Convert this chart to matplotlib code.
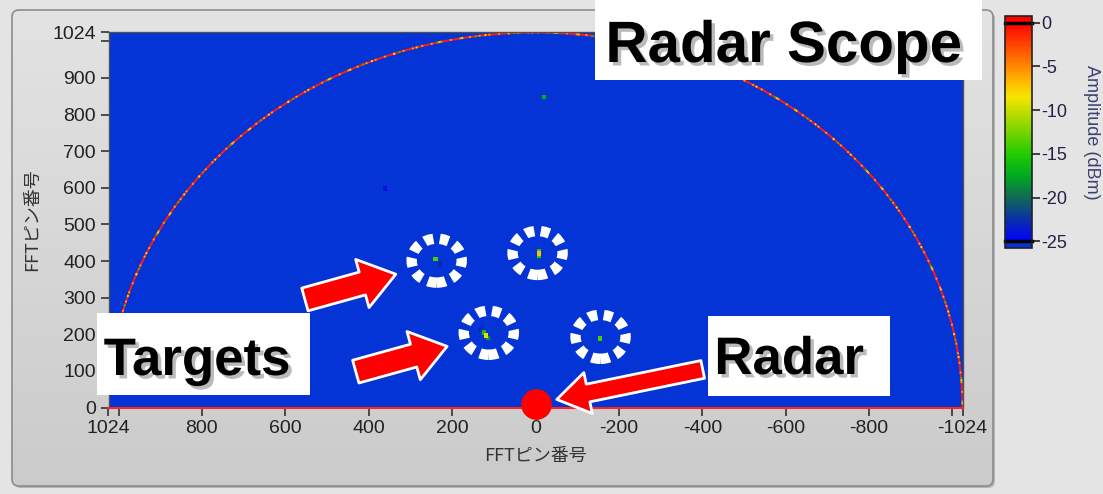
import numpy as np
import matplotlib
matplotlib.use("Agg")
import matplotlib.pyplot as plt
import matplotlib.patheffects as pe
from matplotlib.patches import Arc, Circle, FancyArrowPatch, FancyBboxPatch, Rectangle
from matplotlib.colors import LinearSegmentedColormap, Normalize
from matplotlib.cm import ScalarMappable

plt.rcParams['font.family'] = ['Liberation Sans', 'Noto Sans CJK JP', 'DejaVu Sans']
plt.rcParams['axes.unicode_minus'] = False

# echoes seen on the scope: FFT bin (x), FFT bin (y), amplitude in dBm
echo_x = [240, 229, -9, -9, -9, 124, 119, 114, 130, -155, -20, 361]
echo_y = [405, 391, 426, 414, 420, 205, 197, 190, 213, 188, 848, 598]
echo_amp = [-14, -23, -15, -15, -7, -16, -8, -18, -23, -14, -17, -24]

# circled targets
target_x = [237, -5, 112, -156]
target_y = [401, 422, 204, 193]

radar_x, radar_y = 0, 10
max_bin = 1024

x_ticks = [1024, 1000, 800, 600, 400, 200, 0, -200, -400, -600, -800, -1000, -1024]
y_ticks = [0, 100, 200, 300, 400, 500, 600, 700, 800, 900, 1000, 1024]
cbar_ticks = [0, -5, -10, -15, -20, -25]

# amplitude colour scale (dBm, colour)
cmap_nodes = [(-25, '#0000ff'), (-22.5, '#0b30a8'), (-20, '#106a55'), (-17.5, '#00aa22'),
              (-15, '#22cc00'), (-12.5, '#77d400'), (-10, '#c8de00'), (-8.5, '#f5e600'),
              (-7, '#ffc000'), (-5, '#ff8800'), (-2.5, '#ff4400'), (0, '#ff0000')]
bg_blue = '#0433d6'

vmin, vmax = -25, 0
cmap = LinearSegmentedColormap.from_list(
    'amp', [((v - vmin) / (vmax - vmin), c) for v, c in cmap_nodes])
cmap.set_under(bg_blue)
cmap.set_over('#ff0000')
norm = Normalize(vmin=vmin, vmax=vmax)

fig = plt.figure(figsize=(11.03, 4.94), dpi=100)
fig.patch.set_facecolor('#e4e4e4')

# panel background (pixel coordinates)
bg = fig.add_axes([0, 0, 1, 1], zorder=-5)
bg.axis('off')
shadow = FancyBboxPatch((14, 12), 981, 476, boxstyle='round,pad=0,rounding_size=7',
                        fc='#b4b4b4', ec='none')
bg.add_patch(shadow)
panel = FancyBboxPatch((12, 10), 981, 476, boxstyle='round,pad=0,rounding_size=7',
                       fc='none', ec='#8c8c8c', lw=1.2, zorder=3)
bg.add_patch(panel)
grad = np.linspace(0, 1, 100)[:, None]
img = bg.imshow(grad, cmap=LinearSegmentedColormap.from_list('panel', ['#e3e3e3', '#cbcbcb']),
                extent=(12, 993, 486, 10), aspect='auto', zorder=2)
img.set_clip_path(panel)
bg.set_xlim(0, 1103)
bg.set_ylim(494, 0)

# scope
ax = fig.add_axes([108.5 / 1103, (494 - 407.5) / 494, 854 / 1103, 375 / 494])
ax.set_facecolor(bg_blue)
ax.set_xlim(max_bin, -max_bin)
ax.set_ylim(0, max_bin)

ax.add_patch(Arc((0, 0), 2 * max_bin, 2 * max_bin, theta1=0, theta2=180,
                 ec='#ff1a1a', lw=1.4, zorder=2))
ax.add_patch(Arc((0, 0), 2 * max_bin, 2 * max_bin, theta1=0, theta2=180,
                 ec='#ff9a00', lw=1.4, ls=(0, (1, 4)), zorder=2))
ax.add_patch(Arc((0, 0), 2 * max_bin, 2 * max_bin, theta1=0, theta2=180,
                 ec='#f0e000', lw=1.4, ls=(2, (1, 11)), zorder=2))
ax.add_patch(Arc((0, 0), 2 * max_bin, 2 * max_bin, theta1=0, theta2=180,
                 ec='#30c000', lw=1.4, ls=(7, (1, 19)), zorder=2))

order = np.argsort(echo_amp)
ax.scatter(np.array(echo_x)[order], np.array(echo_y)[order], c=np.array(echo_amp)[order],
           cmap=cmap, norm=norm, marker='s', s=10, linewidths=0, zorder=3)

for tx, ty in zip(target_x, target_y):
    ax.add_patch(Circle((tx, ty), 60, fill=False, ec='white', lw=7.5,
                        ls=(0, (0.86, 0.62)), zorder=4))

arrows = [((553, 295), (335, 364), 17, 36, 25),
          ((431, 98), (212, 167), 17, 36, 25),
          ((-401, 104), (-51, 22), 13, 30, 23)]
for tail, tip, tw, hw, hl in arrows:
    ax.add_patch(FancyArrowPatch(
        tail, tip, arrowstyle=f'simple,head_length={hl},head_width={hw},tail_width={tw}',
        mutation_scale=1, fc='#ff0000', ec='white', lw=2, shrinkA=0, shrinkB=0,
        zorder=5, clip_on=False))

ax.scatter([radar_x], [radar_y], s=490, c='#ff0000', linewidths=0, zorder=6, clip_on=False)

for s in ['left', 'top', 'right']:
    ax.spines[s].set_color('#505050')
    ax.spines[s].set_linewidth(1)
ax.spines['bottom'].set_color('#ff2020')
ax.spines['bottom'].set_linewidth(1.5)

ax.set_xticks(x_ticks, ['' if abs(t) == 1000 else str(t) for t in x_ticks])
ax.set_yticks(y_ticks, ['' if t == 1000 else str(t) for t in y_ticks])
ax.tick_params(direction='out', length=6, width=1.2, color='#333333',
               labelsize=14, labelcolor='#222222', pad=3)
ax.set_xlabel('FFTピン番号', fontsize=13, color='#333333', labelpad=7,
              family=['Noto Sans CJK JP', 'DejaVu Sans'])
ax.set_ylabel('FFTピン番号', fontsize=13, color='#333333', labelpad=8,
              family=['Noto Sans CJK JP', 'DejaVu Sans'])

# colour bar
cax = fig.add_axes([1005 / 1103, (494 - 248) / 494, 27 / 1103, 232 / 494])
cbar = fig.colorbar(ScalarMappable(norm=norm, cmap=cmap), cax=cax, extend='both',
                    extendrect=True, extendfrac=0.03, ticks=cbar_ticks)
cbar.outline.set_edgecolor('#222222')
cbar.outline.set_linewidth(1.2)
cax.axhline(vmax, color='black', lw=2.5, clip_on=False)
cax.axhline(vmin, color='black', lw=2.5, clip_on=False)
cax.tick_params(length=6, width=1.2, color='#222222', labelsize=13,
                labelcolor='#222244', pad=1)
cbar.set_label('Amplitude (dBm)', rotation=270, labelpad=23, fontsize=13, color='#3b4270')

# annotation boxes
ov = fig.add_axes([0, 0, 1, 1], zorder=10)
ov.set_xlim(0, 1103)
ov.set_ylim(494, 0)
ov.axis('off')
shade = [pe.SimplePatchShadow(offset=(2.5, -2.5), shadow_rgbFace='#777777', alpha=0.5), pe.Normal()]
boxes = [((595, 0, 387, 80), (784, 62), 'Radar Scope', 42),
         ((97, 313, 213, 82), (197, 375), 'Targets', 38),
         ((708, 316, 182, 80), (789, 374), 'Radar', 38)]
for (bx, by, bw, bh), (tx, ty), label, fs in boxes:
    ov.add_patch(Rectangle((bx, by), bw, bh, fc='white', ec='none'))
    ov.text(tx, ty, label, ha='center', va='baseline', fontsize=fs, fontweight='bold',
            color='black', path_effects=shade)

fig.savefig('out.png', dpi=100)
